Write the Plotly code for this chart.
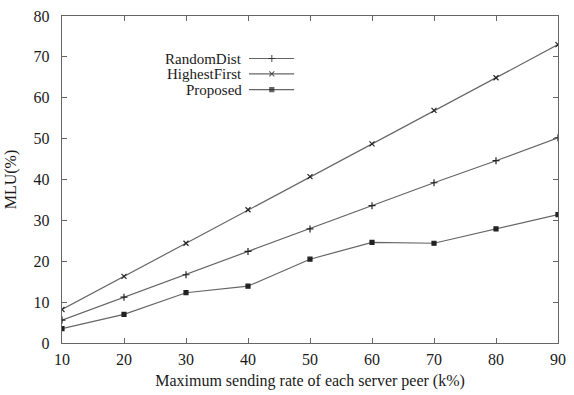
import plotly.graph_objects as go

rates = [10, 20, 30, 40, 50, 60, 70, 80, 90]
random_dist = [5.6, 11.2, 16.7, 22.4, 27.9, 33.6, 39.2, 44.6, 50.2]
highest_first = [8.2, 16.3, 24.4, 32.6, 40.7, 48.7, 56.9, 64.9, 73.0]
proposed = [3.5, 7.0, 12.3, 13.9, 20.5, 24.6, 24.4, 27.9, 31.4]
series_names = ["RandomDist", "HighestFirst", "Proposed"]
x_ticks = [10, 20, 30, 40, 50, 60, 70, 80, 90]
y_ticks = [0, 10, 20, 30, 40, 50, 60, 70, 80]

LINE = "#666666"
MARK = "#222222"
FONT = "Liberation Serif"
TXT = "#1a1a1a"
symbols = ["cross-thin-open", "x-thin-open", "square"]
sizes = [5, 5, 4]

fig = go.Figure()
for name, vals, sym, sz in zip(series_names, [random_dist, highest_first, proposed], symbols, sizes):
    fig.add_trace(go.Scatter(
        x=rates, y=vals, mode="lines+markers", name=name, showlegend=False,
        line=dict(color=LINE, width=1.2),
        marker=dict(symbol=sym, size=sz, color=MARK, line=dict(color=MARK, width=1.2)),
    ))

# manual gnuplot-style legend (text left of sample)
leg_rows = [0.870, 0.823, 0.775]
lx0, lx1, lxm, ltx = 0.377, 0.468, 0.423, 0.364
for name, sym, sz, yy in zip(series_names, symbols, sizes, leg_rows):
    fig.add_trace(go.Scatter(
        x=[lx0, lxm, lx1], y=[yy, yy, yy], xaxis="x2", yaxis="y2",
        mode="lines+markers", showlegend=False, hoverinfo="skip",
        line=dict(color=LINE, width=1.2),
        marker=dict(symbol=sym, size=[0, sz, 0], color=MARK, line=dict(color=MARK, width=1.2)),
    ))
    fig.add_annotation(x=ltx, y=yy, xref="paper", yref="paper", text=name,
                       showarrow=False, xanchor="right", yanchor="middle",
                       borderpad=0, font=dict(family=FONT, size=15, color=TXT))

axis_common = dict(
    showgrid=False, zeroline=False, showline=True, linecolor="#666", linewidth=1.4,
    mirror="allticks", ticks="inside", ticklen=5, tickcolor="#666",
    tickfont=dict(family=FONT, size=16, color=TXT),
)
fig.update_layout(
    width=574, height=395,
    margin=dict(l=62, r=8, t=14, b=50),
    paper_bgcolor="white", plot_bgcolor="white",
    xaxis=dict(range=[10, 90], tickvals=x_ticks, ticklabelstandoff=2,
               title=dict(text="Maximum sending rate of each server peer (k%)",
                          font=dict(family=FONT, size=16, color=TXT), standoff=7),
               **axis_common),
    yaxis=dict(range=[0, 80], tickvals=y_ticks, ticklabelstandoff=8,
               title=dict(text="MLU(%)", font=dict(family=FONT, size=16, color=TXT), standoff=12),
               **axis_common),
    xaxis2=dict(overlaying="x", range=[0, 1], visible=False),
    yaxis2=dict(overlaying="y", range=[0, 1], visible=False),
)

fig.write_html("out.html", config={"displayModeBar": False},
               post_script="document.body.style.margin='0px';")
